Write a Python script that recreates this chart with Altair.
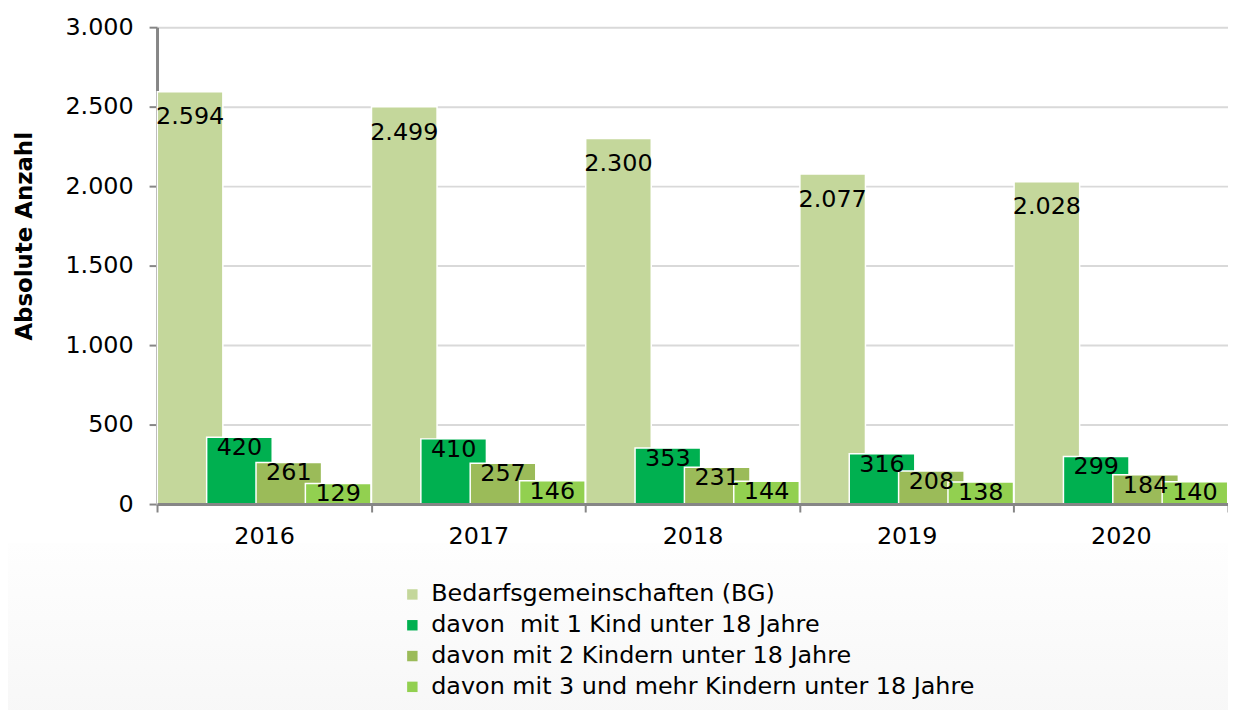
import altair as alt
import pandas as pd

years = ["2016", "2017", "2018", "2019", "2020"]
series = [
    "Bedarfsgemeinschaften (BG)",
    "davon\u00a0 mit 1 Kind unter 18 Jahre",
    "davon mit 2 Kindern unter 18 Jahre",
    "davon mit 3 und mehr Kindern unter 18 Jahre",
]
bg = [2594, 2499, 2300, 2077, 2028]
k1 = [420, 410, 353, 316, 299]
k2 = [261, 257, 231, 208, 184]
k3 = [129, 146, 144, 138, 140]
colors = ["#C4D79B", "#00B050", "#9BBB59", "#92D050"]

rows = []
for s, vals in zip(series, [bg, k1, k2, k3]):
    for y, v in zip(years, vals):
        rows.append({"year": y, "series": s, "value": v})
df = pd.DataFrame(rows)

FONT = "DejaVu Sans"
FS = 24
W, H = 1078, 480

x_enc = alt.X(
    "year:N",
    sort=years,
    scale=alt.Scale(paddingInner=0, paddingOuter=0),
    axis=alt.Axis(
        title=None, labelFontSize=FS, labelColor="#000000", labelPadding=13,
        tickBand="extent", tickSize=8, tickColor="#868686", tickWidth=2,
        domainColor="#868686", domainWidth=3, labelAngle=0, grid=False, zindex=1,
    ),
)
xoff = alt.XOffset("series:N", sort=series, scale=alt.Scale(paddingInner=0, paddingOuter=0.17))
y_enc = alt.Y(
    "value:Q",
    scale=alt.Scale(domain=[0, 3000]),
    axis=alt.Axis(
        title="Absolute Anzahl", titleFontSize=23, titleFontWeight="bold", titleColor="#000000",
        titlePadding=29, titleY=210, values=[0, 500, 1000, 1500, 2000, 2500, 3000],
        labelExpr="replace(format(datum.value, ','), ',', '.')",
        labelFontSize=FS, labelColor="#000000", labelPadding=16,
        tickSize=8, tickColor="#868686", tickWidth=2, domainColor="#868686", domainWidth=3,
        grid=True, gridColor="#D9D9D9", gridWidth=2,
    ),
)

bgrect = alt.Chart(pd.DataFrame({"a": [0]})).mark_rect(
    color=alt.LinearGradient(
        gradient="linear", x1=0, x2=0, y1=0, y2=1,
        stops=[alt.GradientStop(color="#FEFEFE", offset=0), alt.GradientStop(color="#F6F6F6", offset=1)],
    )
).encode(x=alt.value(-150), x2=alt.value(W), y=alt.value(519), y2=alt.value(720))

bars = alt.Chart(df).mark_bar(width=66, stroke="white", strokeWidth=1.5).encode(
    x=x_enc, xOffset=xoff, y=y_enc,
    color=alt.Color(
        "series:N", sort=series, scale=alt.Scale(domain=series, range=colors),
        legend=alt.Legend(
            title=None, orient="none", legendX=245, legendY=559, direction="vertical",
            symbolType="square", symbolSize=110, symbolStrokeWidth=0, labelFontSize=FS,
            labelColor="#000000", rowPadding=7, labelOffset=7, labelLimit=900, padding=0,
        ),
    ),
)

lbl = alt.Chart(df).transform_calculate(
    label="replace(format(datum.value, ','), ',', '.')"
)
text_bg = lbl.transform_filter(alt.datum.series == series[0]).mark_text(
    fontSize=FS, color="#000000", baseline="middle", dy=26
).encode(x=alt.X("year:N", sort=years), xOffset=alt.XOffset("series:N", sort=series), y="value:Q", text="label:N")
text_k = lbl.transform_filter(alt.datum.series != series[0]).mark_text(
    fontSize=FS, color="#000000", baseline="middle", dy=11
).encode(x=alt.X("year:N", sort=years), xOffset=alt.XOffset("series:N", sort=series), y="value:Q", text="label:N")

chart = alt.layer(bgrect, bars, text_bg, text_k).properties(
    width=W, height=H,
    autosize=alt.AutoSizeParams(type="none"),
    padding={"left": 150, "top": 17, "right": 0, "bottom": 205},
).configure(font=FONT, background="white").configure_view(stroke=None)

chart.save("out.html", embed_options={"renderer": "svg", "actions": False})
